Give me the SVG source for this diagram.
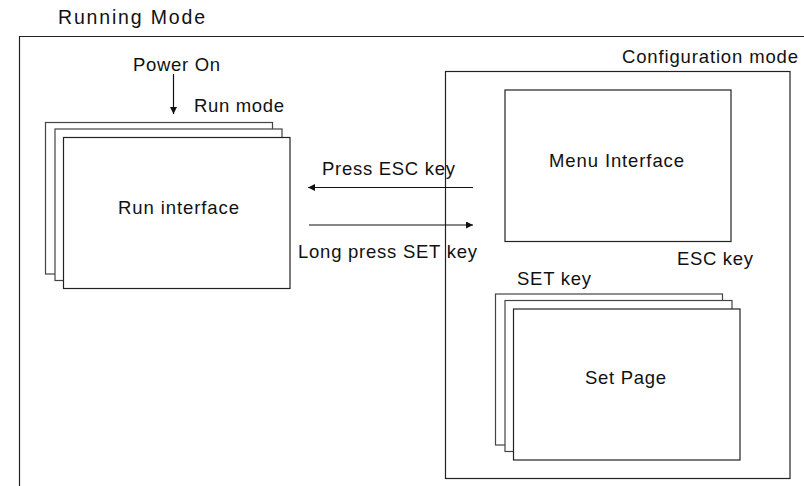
<svg xmlns="http://www.w3.org/2000/svg" width="804" height="486" viewBox="0 0 804 486">
<defs>
<style>
text{font-family:"Liberation Sans",Arial,sans-serif;font-size:18.5px;fill:#111;}
.title{font-size:19.5px;}
.frame{fill:none;stroke:#222;stroke-width:1.2;}
.back{fill:#fff;stroke:#444;stroke-width:1.2;}
.front{fill:#fff;stroke:#222;stroke-width:1.2;}
.conn{stroke:#111;stroke-width:1.2;fill:none;marker-end:url(#ah);}
</style>
<marker id="ah" viewBox="0 0 10 10" refX="10" refY="5" markerWidth="9" markerHeight="7" markerUnits="userSpaceOnUse" orient="auto">
<path d="M0,0 L10,5 L0,10 z" fill="#111"/>
</marker>
</defs>
<rect width="804" height="486" fill="#fff"/>
<g id="running-mode">
<path class="frame" d="M19.5,486 V36.5 H804"/>
<text class="title" x="58" y="24" textLength="147" lengthAdjust="spacing">Running Mode</text>
</g>
<g id="power-on">
<text x="133" y="70.5" textLength="87" lengthAdjust="spacing">Power On</text>
</g>
<g id="run-interface">
<rect class="back" x="45.5" y="122.5" width="227" height="151.5"/>
<rect class="back" x="55" y="129" width="227" height="151.5"/>
<rect class="front" x="63.5" y="137.5" width="226.5" height="151"/>
<text x="118" y="214" textLength="121" lengthAdjust="spacing">Run interface</text>
</g>
<g id="configuration-mode">
<rect class="frame" x="445.5" y="71.5" width="344.5" height="407"/>
<text x="622" y="63" textLength="176" lengthAdjust="spacing">Configuration mode</text>
</g>
<g id="menu-interface">
<rect class="front" x="505" y="90" width="226" height="151.5"/>
<text x="549" y="166.5" textLength="135" lengthAdjust="spacing">Menu Interface</text>
</g>
<g id="set-page">
<rect class="back" x="495.5" y="294" width="227" height="151"/>
<rect class="back" x="505" y="300.5" width="227" height="151"/>
<rect class="front" x="513.5" y="309" width="226.5" height="151"/>
<text x="585" y="384" textLength="81" lengthAdjust="spacing">Set Page</text>
</g>
<g id="connectors">
<line class="conn" x1="173.5" y1="74" x2="173.5" y2="114"/>
<line class="conn" x1="473" y1="187.5" x2="308" y2="187.5"/>
<line class="conn" x1="309" y1="225" x2="473" y2="225"/>
<text x="194" y="112" textLength="90" lengthAdjust="spacing">Run mode</text>
<text x="322" y="175" textLength="133" lengthAdjust="spacing">Press ESC key</text>
<text x="298" y="258" textLength="179" lengthAdjust="spacing">Long press SET key</text>
<text x="677" y="265" textLength="76" lengthAdjust="spacing">ESC key</text>
<text x="517" y="285" textLength="74" lengthAdjust="spacing">SET key</text>
</g>
</svg>
